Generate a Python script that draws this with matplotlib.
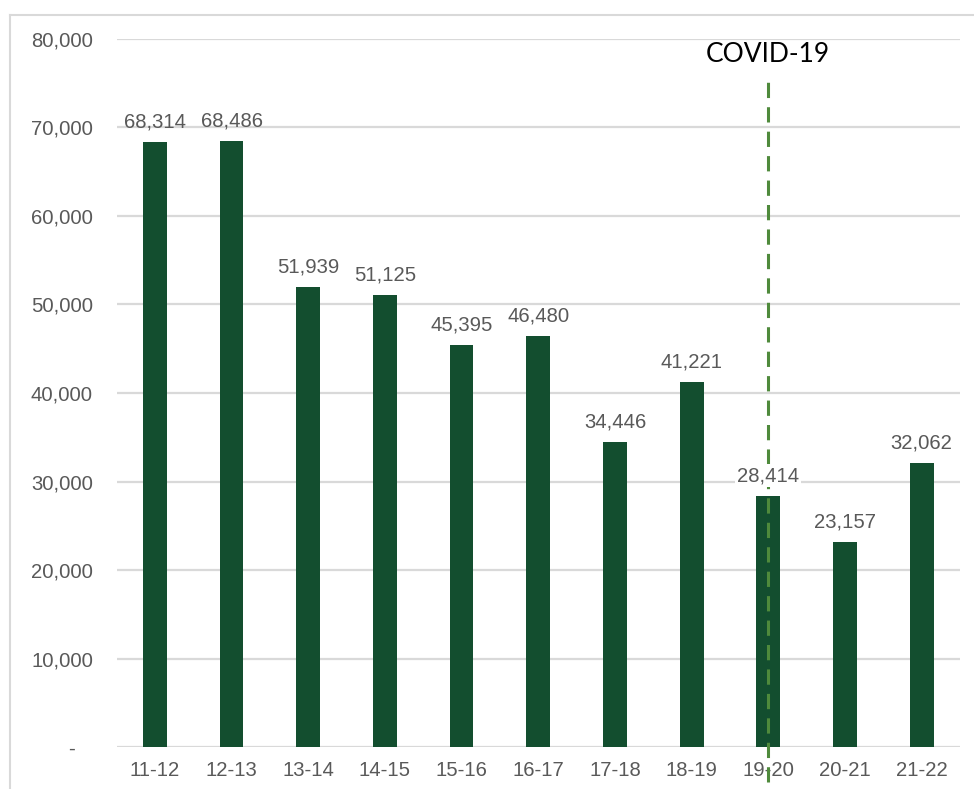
import numpy as np
import matplotlib.pyplot as plt
from matplotlib.lines import Line2D

# academic years and enrolment counts
years = ['11-12', '12-13', '13-14', '14-15', '15-16', '16-17',
         '17-18', '18-19', '19-20', '20-21', '21-22']
values = [68314, 68486, 51939, 51125, 45395, 46480,
          34446, 41221, 28414, 23157, 32062]
covid_year = '19-20'
yticks = [0, 10000, 20000, 30000, 40000, 50000, 60000, 70000, 80000]

bar_color = '#134e2f'
grey = '#595959'
plt.rcParams['font.family'] = ['Liberation Sans', 'DejaVu Sans']

fig = plt.figure(figsize=(9.74, 7.89), dpi=100)
ax = fig.add_axes([0.1197, 0.0532, 0.8659, 0.8974])

x = np.arange(len(years))
ax.bar(x, values, width=0.31, color=bar_color, zorder=2)

ax.set_xlim(-0.5, len(years) - 0.5)
ax.set_ylim(0, 80000)
ax.set_yticks(yticks)
ax.set_yticklabels(['-   '] + [f'{v:,}' for v in yticks[1:]])
ax.set_xticks(x)
ax.set_xticklabels(years)
ax.tick_params(axis='both', length=0, labelsize=14.6, colors=grey)
ax.tick_params(axis='x', pad=10)
ax.tick_params(axis='y', pad=17)
ax.grid(axis='y', color='#d9d9d9', linewidth=1.6, zorder=0)
ax.set_axisbelow(True)
for s in ax.spines.values():
    s.set_visible(False)

ci = years.index(covid_year)
for i, v in enumerate(values):
    kw = {}
    if i == ci:
        kw['bbox'] = dict(facecolor='white', edgecolor='none', pad=1.5)
    ax.annotate(f'{v:,}', (i, v), xytext=(0, 7.5), textcoords='offset points',
                ha='center', va='bottom', fontsize=14.6, color=grey, zorder=4, **kw)

# COVID-19 marker line
ax.plot([ci, ci], [-4000, 75700], color='#4f8a3c', linewidth=2.2,
        linestyle=(0, (5, 3)), clip_on=False, zorder=3)
ax.text(ci, 78200, 'COVID-19', ha='center', va='center', fontsize=19,
        color='black', family=['Lato', 'DejaVu Sans'], zorder=4)

# outer chart frame
fig.add_artist(Line2D([10 / 974, 10 / 974], [0, 1 - 15 / 789],
                      transform=fig.transFigure, color='#d9d9d9', linewidth=1.5))
fig.add_artist(Line2D([10 / 974, 1], [1 - 15 / 789, 1 - 15 / 789],
                      transform=fig.transFigure, color='#d9d9d9', linewidth=1.5))

fig.savefig('out.png', dpi=100)
